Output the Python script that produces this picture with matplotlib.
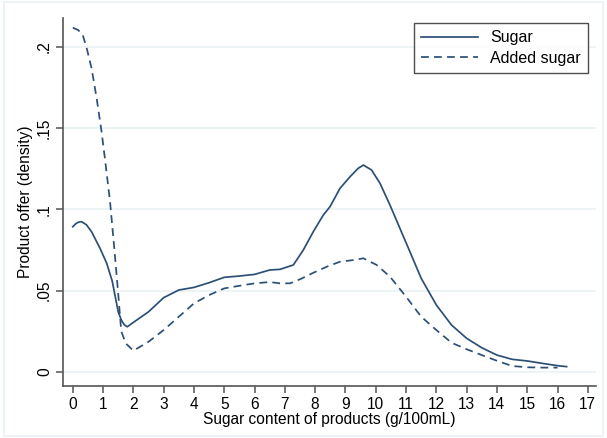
import matplotlib
matplotlib.use("Agg")
import matplotlib.pyplot as plt
from matplotlib.patches import Rectangle

plt.rcParams['font.family'] = ['Liberation Sans', 'DejaVu Sans']

sugar_x = [0, 0.1, 0.2, 0.29, 0.45, 0.62, 0.9, 1.12, 1.3, 1.5, 1.6, 1.7, 1.8, 2.0, 2.5, 3.0,
           3.5, 4.0, 4.5, 5.0, 5.5, 6.0, 6.5, 6.84, 7.28, 7.61, 7.94, 8.27, 8.49, 8.82, 9.15,
           9.42, 9.59, 9.86, 10.14, 10.47, 11.0, 11.5, 12.0, 12.5, 13.0, 13.5, 14.0, 14.5,
           15.0, 15.5, 16.0, 16.3]
sugar_y = [0.0893, 0.0912, 0.0922, 0.0924, 0.0905, 0.0862, 0.0760, 0.0668, 0.0560, 0.0370,
           0.0320, 0.0290, 0.0278, 0.0305, 0.0370, 0.0457, 0.0504, 0.0520, 0.0549, 0.0582,
           0.0590, 0.0600, 0.0627, 0.0631, 0.0658, 0.0750, 0.0863, 0.0965, 0.1016, 0.1129,
           0.1200, 0.1252, 0.1272, 0.1242, 0.1160, 0.1026, 0.0795, 0.0576, 0.0412, 0.0289,
           0.0207, 0.0149, 0.0104, 0.0078, 0.0068, 0.0053, 0.0039, 0.0033]

added_x = [0, 0.18, 0.33, 0.46, 0.62, 0.79, 0.95, 1.06, 1.23, 1.37, 1.5, 1.6, 1.75, 2.0,
           2.5, 3.0, 3.5, 4.0, 4.5, 5.0, 5.5, 6.0, 6.5, 6.84, 7.17, 7.5, 7.94, 8.38, 8.82,
           9.26, 9.59, 10.03, 10.47, 11.0, 11.5, 12.0, 12.5, 13.0, 13.5, 14.0, 14.5, 15.0,
           15.5, 16.0]
added_y = [0.2116, 0.2102, 0.2071, 0.1990, 0.1867, 0.1680, 0.1477, 0.1313, 0.1047, 0.0760,
           0.0480, 0.0250, 0.0176, 0.0131, 0.0186, 0.0258, 0.0340, 0.0422, 0.0473, 0.0514,
           0.0530, 0.0545, 0.0553, 0.0545, 0.0545, 0.0570, 0.0610, 0.0647, 0.0678, 0.0688,
           0.0699, 0.0658, 0.0586, 0.0463, 0.0340, 0.0258, 0.0180, 0.0140, 0.0104, 0.0069,
           0.0037, 0.0029, 0.0027, 0.0027]

x_ticks = list(range(0, 18))
y_ticks = [0, 0.05, 0.1, 0.15, 0.2]
y_tick_labels = ['0', '.05', '.1', '.15', '.2']

W, H = 607, 438
fig = plt.figure(figsize=(W / 100, H / 100), dpi=100)
fig.patch.set_facecolor('white')
fig.patches.append(Rectangle((4 / W, 2 / H), 599 / W, 434 / H, transform=fig.transFigure,
                             fill=False, edgecolor='#EAF2F3', linewidth=1.2))

ax = fig.add_axes([63 / W, (H - 386) / H, (596 - 63) / W, (386 - 18) / H])
color = '#2C4F76'
ax.plot(sugar_x, sugar_y, color=color, lw=1.25, label='Sugar')
ax.plot(added_x, added_y, color=color, lw=1.25, dashes=(4.5, 3), label='Added sugar')

ax.set_xlim(-0.323, 17.27)
ax.set_ylim(-0.0086, 0.2176)
ax.set_xticks(x_ticks)
ax.set_yticks(y_ticks)
ax.set_yticklabels(y_tick_labels, rotation=90, va='center')
for t in y_ticks:
    ax.axhline(t, color='#EAF2F3', lw=1.2, zorder=0)

for s in ['top', 'right']:
    ax.spines[s].set_visible(False)
for s in ['left', 'bottom']:
    ax.spines[s].set_color('#555555')
    ax.spines[s].set_linewidth(1.2)
ax.tick_params(axis='both', direction='out', length=5, width=1.1, color='#555555',
               labelsize=11.2, labelcolor='black', pad=3)

ax.set_xlabel('Sugar content of products (g/100mL)', fontsize=11.2, labelpad=0)
ax.set_ylabel('Product offer (density)', fontsize=11.2, labelpad=3)

leg = ax.legend(loc='upper right', bbox_to_anchor=((588 - 63) / (596 - 63), (386 - 23) / (386 - 18)),
                frameon=True, fancybox=False, fontsize=11.5, handlelength=3.6,
                borderpad=0.45, labelspacing=0.35, handletextpad=0.75, borderaxespad=0)
leg.get_frame().set_edgecolor('#222222')
leg.get_frame().set_linewidth(1.0)

fig.savefig('out.png', dpi=100)
